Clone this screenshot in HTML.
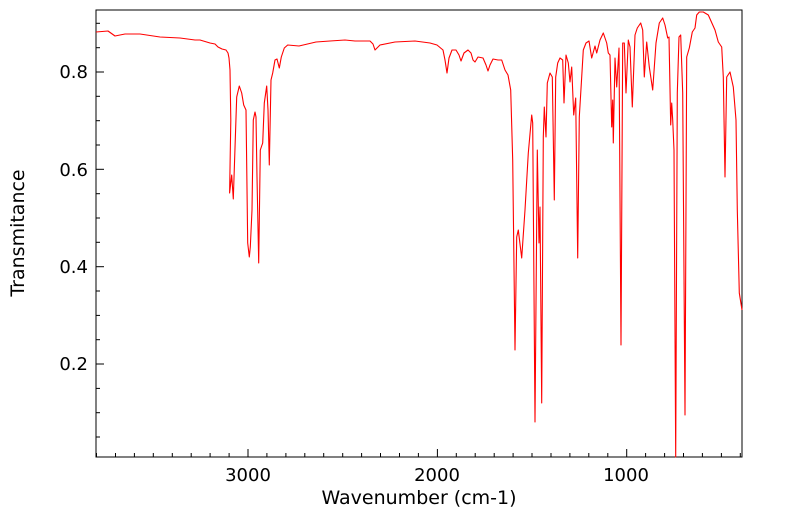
<!DOCTYPE html>
<html><head><meta charset="utf-8"><style>
html,body{margin:0;padding:0;background:#fff;}
svg{display:block;font-family:"DejaVu Sans","Liberation Sans",sans-serif;}
</style></head><body>
<svg id="s" width="799" height="516" viewBox="0 0 799 516" xmlns="http://www.w3.org/2000/svg">
<rect x="96" y="10" width="646" height="447" fill="none" stroke="#000" stroke-width="1"/>
<g id="ticks" stroke="#000" stroke-width="1"></g>
<g font-size="18" fill="#000">
<text x="248" y="481" text-anchor="middle">3000</text>
<text x="437" y="481" text-anchor="middle">2000</text>
<text x="626" y="481" text-anchor="middle">1000</text>
<text x="88" y="78" text-anchor="end">0.8</text>
<text x="88" y="176" text-anchor="end">0.6</text>
<text x="88" y="273" text-anchor="end">0.4</text>
<text x="88" y="370" text-anchor="end">0.2</text>
</g>
<text x="419" y="504" font-size="19" text-anchor="middle">Wavenumber (cm-1)</text>
<text transform="translate(24,233) rotate(-90)" font-size="19" text-anchor="middle">Transmitance</text>
<polyline fill="none" stroke="#ff0000" stroke-width="1.1" stroke-linejoin="round" points="
96,32 108,31 115,36 125,34 140,34 160,37 180,38 195,40 200,40 210,43 215,44 218,47 222,49 226,50 228,53 229,58 230,70 230.8,120 229.6,193 231.7,175 233.3,199 236.7,97 239.3,86 241.7,93 243.7,105 246,110 247.7,243 249.3,257 250.3,247 252,210 253.3,120 255,112 256,117 257,177 258.7,263 260.3,150 262.7,143 264.3,103 266.7,86 268,110 269.3,165 271,80 272.7,73 275,60 277,59 279.3,68 281.3,57 284.3,48 287.7,45 299,46 316,42 330,41 345,40 355,41 370,41 373,44 375,50 377,48 380,45 395,42 415,41 430,43 437,45 443,50 445,60 447,73 449,58 452,50 456,50 459,55 461,61 464,53 468,50 471,53 473,60 475,62 478,57 483,58 486,65 488,71 490,65 493,59 498,60 501.7,60 505,70 508,75 510.7,90 512.7,160 515,350 516.7,237 518.3,230 521.7,258 525,210 528.3,153 531.7,115 532.7,123 535,422 537.3,150 539,243 540,207 541.7,403 543.3,137 544.3,107 546,137 547.3,83 550,73 552.3,77 554.3,200 555.7,77 557.7,63 560,58 562.7,60 564,103 566,55 568.3,63 570,82 571.7,67 573.7,115 575.7,98 577.7,258 579.3,117 581.7,77 583.3,50 586,43 589,41 591.7,58 595,46 596.7,53 600,40 603.3,33 606.7,43 608.3,53 610,55 611.7,127 612.7,100 613.3,143 615,58 616.7,87 619,48 621,345 622.7,43 624.3,43 626,93 628.3,40 630,47 632.3,107 635,35 637.3,28 640.7,23 642.7,30 644.3,77 646.7,42 649.3,67 652.7,90 656,43 659.3,23 662.7,18 665,25 667.7,38 669,37 670.7,125 671.7,103 672.7,120 674,150 675.7,457 677.3,93 679,37 680.7,35 682.7,93 685,415 686.7,57 689.3,48 692.3,32 695,28 696.7,15 699.3,12 703.3,12 708.3,15 715,30 718.3,42 721.7,47 723.3,77 725,177 726.7,77 730,72 733.3,87 736,120 737.3,210 739.3,293 742,310"/>
</svg>
<script>
var g=document.getElementById('ticks'),h='';
function xw(w){return 248+(3000-w)*0.18935;}
for(var w=3800;w>=400;w-=100){var x=xw(w);if(x<96||x>742)continue;var L=(w%1000==0)?8:4;h+='<line x1="'+x.toFixed(1)+'" y1="457" x2="'+x.toFixed(1)+'" y2="'+(457-L)+'"/>';}
function yv(v){return 72+(0.8-v)*486.7;}
for(var i=1;i<=18;i++){var v=i*0.05,y=yv(v);if(y<10||y>457)continue;var L=(i%4==0)?8:4;h+='<line x1="96" y1="'+y.toFixed(1)+'" x2="'+(96+L)+'" y2="'+y.toFixed(1)+'"/>';}
g.innerHTML=h;
</script>
</body></html>
